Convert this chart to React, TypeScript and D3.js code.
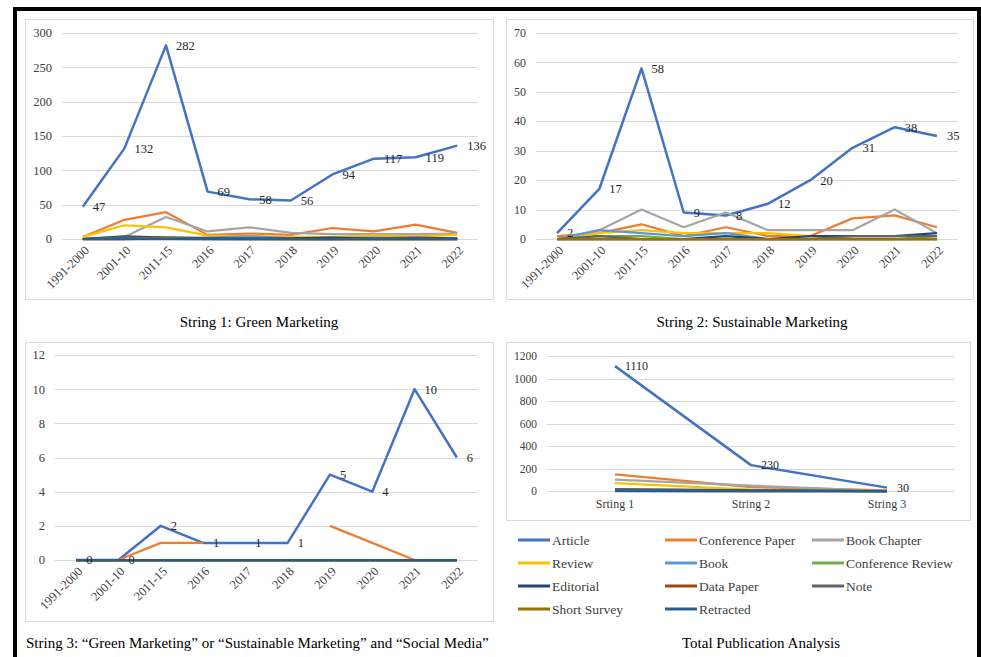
import React from "react";
import * as d3 from "d3";

// Categories
const periods = ["1991-2000", "2001-10", "2011-15", "2016", "2017", "2018", "2019", "2020", "2021", "2022"];
const stringLabels = ["Srting 1", "String 2", "String 3"];

const seriesNames = [
  "Article", "Conference Paper", "Book Chapter", "Review", "Book", "Conference Review",
  "Editorial", "Data Paper", "Note", "Short Survey", "Retracted",
];
const seriesColors = [
  "#4472C4", "#ED7D31", "#A5A5A5", "#FFC000", "#5B9BD5", "#70AD47",
  "#264478", "#9E480E", "#636363", "#997300", "#255E91",
];

type V = number | null;

// String 1: Green Marketing
const s1Article: V[] = [47, 132, 282, 69, 58, 56, 94, 117, 119, 136];
const s1Conference: V[] = [3, 28, 39, 6, 8, 6, 16, 11, 21, 9];
const s1BookChapter: V[] = [1, 3, 32, 11, 17, 9, 7, 7, 7, 8];
const s1Review: V[] = [3, 20, 17, 5, 4, 3, 3, 5, 4, 6];
const s1Book: V[] = [0, 1, 2, 2, 4, 1, 1, 2, 1, 1];
const s1ConfReview: V[] = [0, 0, 2, 1, 0, 0, 0, 0, 0, 0];
const s1Editorial: V[] = [0, 4, 2, 1, 1, 1, 2, 1, 2, 1];
const s1DataPaper: V[] = [0, 1, 0, 0, 0, 0, 0, 0, 0, 0];
const s1Note: V[] = [0, 2, 1, 0, 1, 0, 0, 1, 1, 0];
const s1ShortSurvey: V[] = [0, 0, 1, 0, 0, 0, 0, 0, 0, 0];
const s1Retracted: V[] = [0, 0, 0, 0, 0, 0, 0, 0, 0, 0];

// String 2: Sustainable Marketing
const s2Article: V[] = [2, 17, 58, 9, 8, 12, 20, 31, 38, 35];
const s2Conference: V[] = [1, 2, 5, 1, 4, 1, 1, 7, 8, 4];
const s2BookChapter: V[] = [0, 3, 10, 4, 9, 3, 3, 3, 10, 2];
const s2Review: V[] = [0, 2, 3, 2, 2, 2, 1, 0, 0, 0];
const s2Book: V[] = [0, 3, 2, 1, 2, 0, 0, 0, 0, 0];
const s2ConfReview: V[] = [0, 1, 1, 0, 0, 0, 0, 0, 0, 1];
const s2Editorial: V[] = [0, 0, 0, 0, 1, 0, 1, 1, 1, 2];
const s2DataPaper: V[] = [0, 0, 0, 0, 0, 0, 0, 0, 0, 0];
const s2Note: V[] = [0, 1, 0, 0, 0, 0, 0, 1, 1, 1];
const s2ShortSurvey: V[] = [0, 0, 0, 0, 0, 0, 0, 0, 0, 0];
const s2Retracted: V[] = [null, null, null, null, null, null, null, null, null, null];

// String 3: Green/Sustainable Marketing and Social Media
const s3Article: V[] = [0, 0, 2, 1, 1, 1, 5, 4, 10, 6];
const s3Conference: V[] = [null, 0, 1, 1, null, null, 2, 1, 0, null];
const s3Zero: V[] = [0, 0, 0, 0, 0, 0, 0, 0, 0, 0];

const string1 = [s1Article, s1Conference, s1BookChapter, s1Review, s1Book, s1ConfReview, s1Editorial, s1DataPaper, s1Note, s1ShortSurvey, s1Retracted];
const string2 = [s2Article, s2Conference, s2BookChapter, s2Review, s2Book, s2ConfReview, s2Editorial, s2DataPaper, s2Note, s2ShortSurvey, s2Retracted];
const string3 = [s3Article, s3Conference, s3Zero, s3Zero, s3Zero, s3Zero, s3Zero, s3Zero, s3Zero, s3Zero, s3Zero];

// Totals per publication type across the three search strings
const totals: V[][] = seriesNames.map((_, i) => [
  d3.sum(string1[i], (v) => v ?? 0),
  d3.sum(string2[i], (v) => v ?? 0),
  d3.sum(string3[i], (v) => v ?? 0),
]);

const FONT = '"Liberation Serif", "Times New Roman", serif';
const TXT = "#404040";
const GRID = "#D9D9D9";

type Box = { x: number; y: number; w: number; h: number };
type Plot = { left: number; right: number; top: number; bottom: number };

function LinePanel(props: {
  frame: Box;
  plot: Plot;
  cats: string[];
  data: V[][];
  yMax: number;
  yStep: number;
  rotate: boolean;
  yFont: number;
  xFont: number;
  labelFont: number;
}) {
  const { frame, plot, cats, data, yMax, yStep, rotate, yFont, xFont, labelFont } = props;
  const x = d3.scalePoint<string>().domain(cats).range([plot.left, plot.right]).padding(0.5);
  const y = d3.scaleLinear().domain([0, yMax]).range([plot.bottom, plot.top]);
  const ticks = d3.range(0, yMax + yStep / 2, yStep);
  const line = d3
    .line<V>()
    .defined((d) => d != null)
    .x((_, i) => x(cats[i]) as number)
    .y((d) => y(d as number));

  return (
    <g>
      <rect x={frame.x + 0.5} y={frame.y + 0.5} width={frame.w} height={frame.h} fill="#fff" stroke={GRID} />
      {ticks.map((t) => (
        <g key={t}>
          <line x1={plot.left} x2={plot.right} y1={Math.round(y(t)) + 0.5} y2={Math.round(y(t)) + 0.5} stroke={GRID} />
          <text x={plot.left - 10} y={y(t)} dy="0.35em" textAnchor="end" fontSize={yFont} fill={TXT} fontFamily={FONT}>
            {t}
          </text>
        </g>
      ))}
      {cats.map((c) =>
        rotate ? (
          <text
            key={c}
            transform={`translate(${(x(c) as number) + 4},${plot.bottom + 9}) rotate(-45)`}
            textAnchor="end"
            dy="0.35em"
            fontSize={xFont}
            fill={TXT}
            fontFamily={FONT}
          >
            {c}
          </text>
        ) : (
          <text key={c} x={x(c)} y={plot.bottom + 13} dy="0.35em" textAnchor="middle" fontSize={xFont} fill={TXT} fontFamily={FONT}>
            {c}
          </text>
        )
      )}
      {data.map((vals, i) => (
        <path key={i} d={line(vals) || ""} fill="none" stroke={seriesColors[i]} strokeWidth={i === 0 ? 2.5 : 2.25} strokeLinejoin="round" />
      ))}
      {data[0].map((v, i) =>
        v == null ? null : (
          <text key={i} x={(x(cats[i]) as number) + 10} y={y(v)} dy="0.35em" fontSize={labelFont} fill="#262626" fontFamily={FONT}>
            {v}
          </text>
        )
      )}
    </g>
  );
}

function Legend() {
  const colX = [518, 665, 812];
  const rowY = [540, 563, 586, 609];
  return (
    <g>
      {seriesNames.map((name, i) => {
        const cx = colX[i % 3];
        const cy = rowY[Math.floor(i / 3)];
        return (
          <g key={name}>
            <line x1={cx} x2={cx + 32} y1={cy} y2={cy} stroke={seriesColors[i]} strokeWidth={3} />
            <text x={cx + 34} y={cy} dy="0.35em" fontSize={13.5} fill={TXT} fontFamily={FONT}>
              {name}
            </text>
          </g>
        );
      })}
    </g>
  );
}

export default function App() {
  return (
    <svg width={981} height={657} style={{ position: "absolute", left: 0, top: 0, background: "#fff" }}>
      <rect x={0} y={0} width={981} height={657} fill="#fff" />
      <rect x={15} y={9} width={964} height={700} fill="none" stroke="#000" strokeWidth={4} />

      <LinePanel
        frame={{ x: 25, y: 19, w: 468, h: 280 }}
        plot={{ left: 62, right: 478, top: 33, bottom: 239 }}
        cats={periods}
        data={string1}
        yMax={300}
        yStep={50}
        rotate
        yFont={12.5}
        xFont={12.5}
        labelFont={12.5}
      />
      <text x={259} y={322} dy="0.35em" textAnchor="middle" fontSize={15} fontFamily={FONT} fill="#000">
        String 1: Green Marketing
      </text>

      <LinePanel
        frame={{ x: 506, y: 19, w: 467, h: 280 }}
        plot={{ left: 536, right: 958, top: 33, bottom: 239 }}
        cats={periods}
        data={string2}
        yMax={70}
        yStep={10}
        rotate
        yFont={12}
        xFont={12.5}
        labelFont={12.5}
      />
      <text x={752} y={322} dy="0.35em" textAnchor="middle" fontSize={15} fontFamily={FONT} fill="#000">
        String 2: Sustainable Marketing
      </text>

      <LinePanel
        frame={{ x: 25, y: 342, w: 468, h: 279 }}
        plot={{ left: 55, right: 478, top: 355, bottom: 560 }}
        cats={periods}
        data={string3}
        yMax={12}
        yStep={2}
        rotate
        yFont={12.5}
        xFont={12.5}
        labelFont={12.5}
      />
      <text x={26} y={643} dy="0.35em" textAnchor="start" fontSize={15} fontFamily={FONT} fill="#000">
        String 3: “Green Marketing” or “Sustainable Marketing” and “Social Media”
      </text>

      <LinePanel
        frame={{ x: 506, y: 342, w: 464, h: 178 }}
        plot={{ left: 547, right: 955, top: 356, bottom: 491 }}
        cats={stringLabels}
        data={totals}
        yMax={1200}
        yStep={200}
        rotate={false}
        yFont={11.5}
        xFont={12}
        labelFont={12}
      />
      <Legend />
      <text x={761} y={643} dy="0.35em" textAnchor="middle" fontSize={15} fontFamily={FONT} fill="#000">
        Total Publication Analysis
      </text>
    </svg>
  );
}
